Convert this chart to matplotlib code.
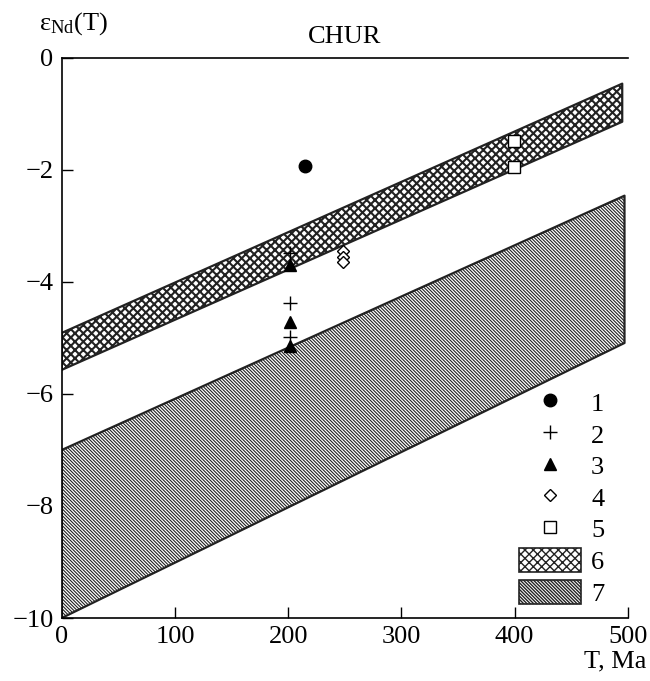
"""Nd isotope evolution plot: eps_Nd(T) vs age, with two hatched fields."""

import matplotlib

matplotlib.use("Agg")
import matplotlib.pyplot as plt
from matplotlib.lines import Line2D
from matplotlib.patches import Patch

plt.rcParams["font.family"] = ["Liberation Serif", "DejaVu Serif"]
plt.rcParams["mathtext.fontset"] = "custom"
plt.rcParams["mathtext.rm"] = "Liberation Serif"
plt.rcParams["mathtext.it"] = "Liberation Serif:italic"

# ---------------------------------------------------------------------------
# Data
# ---------------------------------------------------------------------------
pt1_t = [215]
pt1_eps = [-1.93]

pt2_t = [202, 202, 202]
pt2_eps = [-3.48, -4.38, -4.98]

pt3_t = [202, 202, 202]
pt3_eps = [-3.70, -4.71, -5.15]

pt4_t = [248, 248, 248]
pt4_eps = [-3.45, -3.55, -3.65]

pt5_t = [399, 399]
pt5_eps = [-1.48, -1.95]

# field 6 (cross-hatched band)
band6_t = [0, 495]
band6_top = [-4.91, -0.46]
band6_bot = [-5.57, -1.14]

# field 7 (diagonal-hatched band)
band7_t = [0, 497]
band7_top = [-7.0, -2.46]
band7_bot = [-10.0, -5.09]

legend_labels = ["1", "2", "3", "4", "5", "6", "7"]

HATCH6 = "xxxx"
HATCH7 = "\\" * 10

# ---------------------------------------------------------------------------
# Figure
# ---------------------------------------------------------------------------
fig = plt.figure(figsize=(6.5, 6.81), dpi=100)
ax = fig.add_axes([0.095, 0.0925, 0.871, 0.8225])

with plt.rc_context({"hatch.linewidth": 1.5}):
    ax.fill_between(band6_t, band6_top, band6_bot, facecolor="white",
                    edgecolor="#222222", hatch=HATCH6, linewidth=1.6, zorder=2)
with plt.rc_context({"hatch.linewidth": 0.8}):
    ax.fill_between(band7_t, band7_top, band7_bot, facecolor="white",
                    edgecolor="#222222", hatch=HATCH7, linewidth=1.6, zorder=2)

ax.plot(pt1_t, pt1_eps, "o", color="black", ms=9, zorder=4)
ax.plot(pt2_t, pt2_eps, "+", color="black", ms=10, mew=1.0, zorder=4)
ax.plot(pt3_t, pt3_eps, "^", color="black", ms=9, zorder=4)
ax.plot(pt4_t, pt4_eps, "D", mfc="white", mec="black", ms=6, mew=1.0, zorder=4)
ax.plot(pt5_t, pt5_eps, "s", mfc="white", mec="black", ms=8, mew=1.0, zorder=4)

ax.set_xlim(0, 500)
ax.set_ylim(-10, 0)
ax.set_xticks([0, 100, 200, 300, 400, 500])
ax.set_yticks([0, -2, -4, -6, -8, -10])
ax.set_yticklabels(["0", "\u22122", "\u22124", "\u22126", "\u22128", "\u221210"])
ax.tick_params(direction="in", length=8, width=1.0, labelsize=19, pad=6)
ax.spines["right"].set_visible(False)
for side in ("left", "bottom", "top"):
    ax.spines[side].set_linewidth(1.2)

ax.set_title("CHUR", fontsize=19, pad=11)
fig.text(0.06, 0.965, r"$\mathrm{\varepsilon}_{\mathrm{Nd}}\mathrm{(T)}$",
         fontsize=19, ha="left", va="center")
fig.text(0.995, 0.028, "T, Ma", fontsize=19, ha="right", va="center")

with plt.rc_context({"hatch.linewidth": 1.0}):
    handles = [
        Line2D([], [], ls="", marker="o", color="black", ms=9),
        Line2D([], [], ls="", marker="+", color="black", ms=10, mew=1.0),
        Line2D([], [], ls="", marker="^", color="black", ms=9),
        Line2D([], [], ls="", marker="D", mfc="white", mec="black", ms=6, mew=1.0),
        Line2D([], [], ls="", marker="s", mfc="white", mec="black", ms=8, mew=1.0),
        Patch(facecolor="white", edgecolor="#222222", hatch=HATCH6, linewidth=1.2),
        Patch(facecolor="white", edgecolor="#222222", hatch=HATCH7, linewidth=1.2),
    ]
    ax.legend(handles, legend_labels, loc="lower right", frameon=False,
              fontsize=19, handlelength=2.35, handleheight=1.0, labelspacing=0.22,
              handletextpad=0.4, borderaxespad=0.0, bbox_to_anchor=(0.977, 0.003))

fig.savefig("out.png", dpi=100)
